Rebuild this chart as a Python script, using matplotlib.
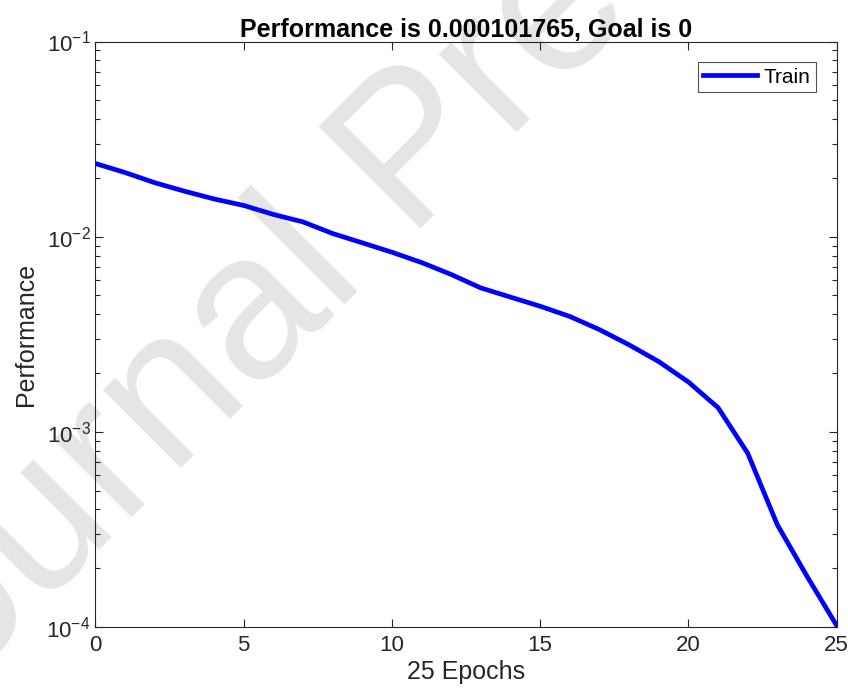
import numpy as np
import matplotlib
matplotlib.use("Agg")
import matplotlib.pyplot as plt
from matplotlib.ticker import LogLocator, FixedLocator

plt.rcParams['font.family'] = ['Liberation Sans', 'DejaVu Sans']
plt.rcParams['mathtext.fontset'] = 'custom'
plt.rcParams['mathtext.rm'] = 'Liberation Sans'
plt.rcParams['mathtext.it'] = 'Liberation Sans'

# training performance per epoch
epochs = np.arange(0, 26)
perf = [0.0237, 0.0213, 0.0189, 0.0171, 0.0156, 0.01445, 0.0130, 0.0119,
        0.01038, 0.0093, 0.00832, 0.00737, 0.0064, 0.00546, 0.0049, 0.0044,
        0.0039, 0.00334, 0.00279, 0.00229, 0.0018, 0.00133, 0.000777,
        0.000334, 0.000182, 0.000101765]

title = "Performance is 0.000101765, Goal is 0"
xlabel = "25 Epochs"
ylabel = "Performance"
legend_label = "Train"
watermark = "Journal Pre-proof"

fig = plt.figure(figsize=(8.48, 7.0), dpi=100)
ax = fig.add_axes([0.1126, 0.1043, 0.874, 0.8364])

# watermark behind everything
fig.text(0.49, 0.775, watermark, fontsize=150, color='#e5e5e5', rotation=45,
         ha='center', va='center', zorder=-1)
ax.patch.set_alpha(0)

ax.plot(epochs, perf, color='#0000ff', lw=3.4, label=legend_label)
ax.set_yscale('log')
ax.set_xlim(0, 25)
ax.set_ylim(1e-4, 1e-1)
ax.xaxis.set_major_locator(FixedLocator([0, 5, 10, 15, 20, 25]))
ax.yaxis.set_major_locator(LogLocator(base=10, numticks=10))
ax.yaxis.set_minor_locator(LogLocator(base=10, subs=np.arange(2, 10), numticks=20))

gray = '#262626'
for s in ax.spines.values():
    s.set_color(gray)
    s.set_linewidth(0.8)
ax.tick_params(which='both', direction='in', top=True, right=True, colors=gray,
               labelcolor='#262626', labelsize=16, width=0.8)
ax.tick_params(which='major', length=6)
ax.tick_params(which='minor', length=3.5)
ax.tick_params(axis='x', pad=6)

ax.set_title(title, fontsize=18, fontweight='bold', pad=3)
ax.set_xlabel(xlabel, fontsize=18, color='#262626', labelpad=3)
ax.set_ylabel(ylabel, fontsize=18, color='#262626', labelpad=6)

leg = ax.legend(loc='upper right', fontsize=15, handlelength=2.6, frameon=True,
                fancybox=False, borderaxespad=1.0, handletextpad=0.3,
                borderpad=0.25)
leg.get_frame().set_edgecolor('#262626')
leg.get_frame().set_linewidth(0.8)

fig.savefig('out.png', dpi=100)
